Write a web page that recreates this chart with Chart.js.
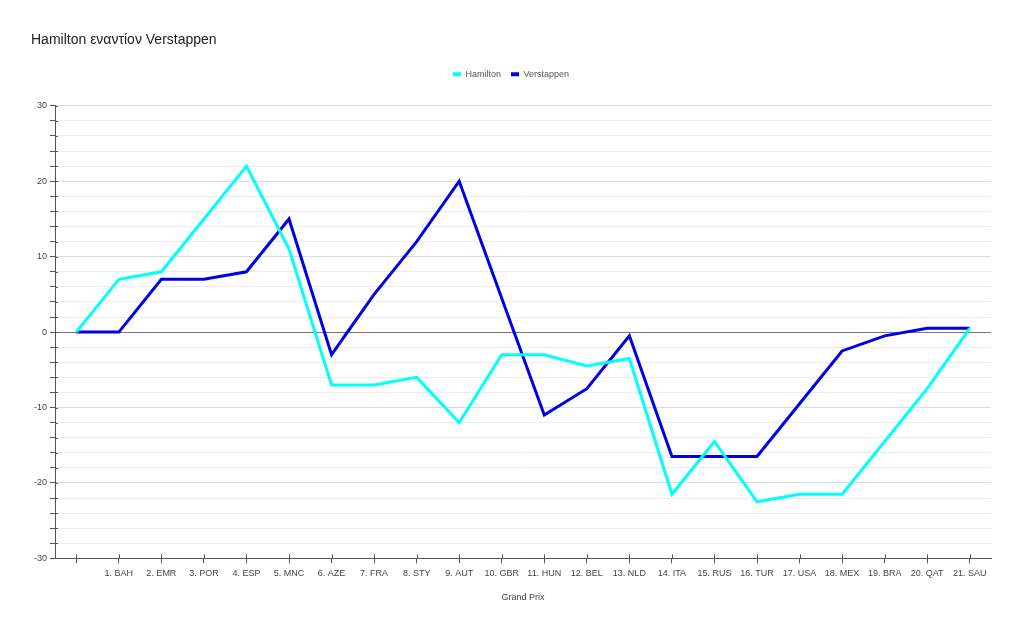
<!DOCTYPE html>
<html>
<head>
<meta charset="utf-8">
<script src="https://cdn.jsdelivr.net/npm/chart.js@4"></script>
<style>
  html, body { margin: 0; padding: 0; background: #fff; }
  #wrap { width: 1024px; height: 632px; }
</style>
</head>
<body>
<div id="wrap"><canvas id="chart" width="1024" height="632"></canvas></div>
<script>
// race labels (first point is the start, no label)
const races = ['', '1. BAH', '2. EMR', '3. POR', '4. ESP', '5. MNC', '6. AZE', '7. FRA',
  '8. STY', '9. AUT', '10. GBR', '11. HUN', '12. BEL', '13. NLD', '14. ITA',
  '15. RUS', '16. TUR', '17. USA', '18. MEX', '19. BRA', '20. QAT', '21. SAU'];

const hamilton = [0, 7, 8, 15, 22, 11, -7, -7, -6, -12, -3, -3, -4.5, -3.5,
  -21.5, -14.5, -22.5, -21.5, -21.5, -14.5, -7.5, 0.5];

const verstappen = [0, 0, 7, 7, 8, 15, -3, 5, 12, 20, 4.5, -11, -7.5, -0.5,
  -16.5, -16.5, -16.5, -9.5, -2.5, -0.5, 0.5, 0.5];

const yMin = -30;
const yMax = 30;

const FONT = '"Liberation Sans", Arial, sans-serif';

/**
 * Extra space under the legend
 */
const legendGap = {
  id: 'legendGap',
  beforeInit(chart) {
    const fit = chart.legend.fit;
    chart.legend.fit = function () {
      fit.bind(chart.legend)();
      this.height += 17;
    };
  },
};

/**
 * Small stubs on the inner side of the axes, so tick marks cross the axis line
 */
const innerTicks = {
  id: 'innerTicks',
  afterDraw(chart) {
    const ctx = chart.ctx;
    const x = chart.scales.x;
    const y = chart.scales.y;
    ctx.save();
    ctx.strokeStyle = '#555';
    ctx.lineWidth = 1;
    ctx.beginPath();
    y.ticks.forEach((t, i) => {
      const py = Math.round(y.getPixelForTick(i)) + 0.5;
      ctx.moveTo(x.left, py);
      ctx.lineTo(x.left + 3, py);
    });
    x.ticks.forEach((t, i) => {
      const px = Math.round(x.getPixelForTick(i)) + 0.5;
      ctx.moveTo(px, y.bottom);
      ctx.lineTo(px, y.bottom - 4);
    });
    ctx.stroke();
    ctx.restore();
  },
};

new Chart(document.getElementById('chart'), {
  type: 'line',
  data: {
    labels: races,
    datasets: [
      {
        label: 'Hamilton',
        data: hamilton,
        borderColor: '#00ffff',
        backgroundColor: '#00ffff',
        borderWidth: 3,
        pointRadius: 0,
        tension: 0,
      },
      {
        label: 'Verstappen',
        data: verstappen,
        borderColor: '#0000e6',
        backgroundColor: '#0000e6',
        borderWidth: 3,
        pointRadius: 0,
        tension: 0,
      },
    ],
  },
  options: {
    responsive: false,
    animation: false,
    layout: {
      padding: { left: 31, right: 33, top: 20, bottom: 25 },
    },
    plugins: {
      title: {
        display: true,
        text: 'Hamilton εναντίον Verstappen',
        align: 'start',
        color: '#222',
        font: { family: FONT, size: 14, weight: 'normal' },
        padding: { top: 12, bottom: 11 },
      },
      legend: {
        position: 'top',
        labels: {
          color: '#555',
          font: { family: FONT, size: 9 },
          boxWidth: 8,
          boxHeight: 4,
          padding: 10,
          generateLabels: (chart) =>
            Chart.defaults.plugins.legend.labels.generateLabels(chart)
              .map((item) => ({ ...item, lineWidth: 0 })),
        },
      },
      tooltip: { enabled: false },
    },
    scales: {
      x: {
        offset: true,
        grid: {
          display: true,
          drawOnChartArea: false,
          drawTicks: true,
          tickLength: 5,
          tickColor: '#555',
          offset: false,
        },
        border: { color: '#555', width: 1 },
        ticks: {
          color: '#444',
          font: { family: FONT, size: 9 },
          maxRotation: 0,
          autoSkip: false,
          padding: 5,
        },
        title: {
          display: true,
          text: 'Grand Prix',
          color: '#444',
          font: { family: FONT, size: 9 },
          padding: { top: 8 },
        },
      },
      y: {
        min: yMin,
        max: yMax,
        grid: {
          color: (c) => {
            const v = c.tick ? c.tick.value : null;
            if (v === 0) return '#777';
            if (v !== null && v % 10 === 0) return '#dcdcdc';
            return '#ececec';
          },
          tickColor: '#555',
          tickLength: 5,
        },
        border: { color: '#555', width: 1 },
        ticks: {
          stepSize: 2,
          color: '#444',
          font: { family: FONT, size: 9 },
          padding: 3,
          callback: (v) => (v % 10 === 0 ? v : ''),
        },
      },
    },
  },
  plugins: [legendGap, innerTicks],
});
</script>
</body>
</html>
